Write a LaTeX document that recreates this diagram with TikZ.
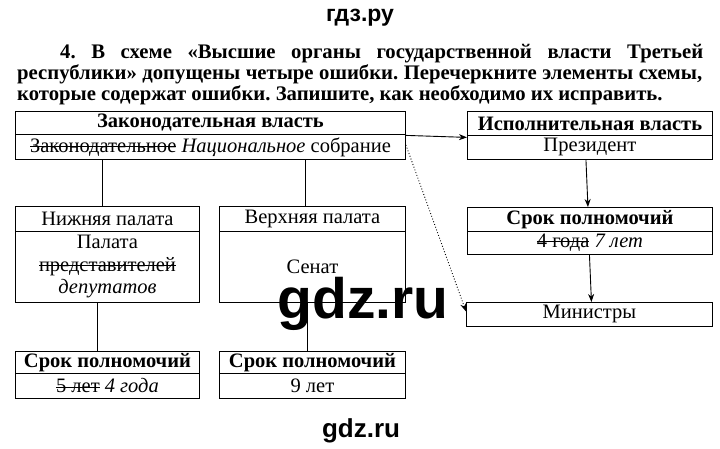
\documentclass[tikz,border=0pt]{standalone}
\usepackage{fontspec}
\setmainfont{Liberation Serif}
\newfontfamily\wmfont{Liberation Sans}
\usetikzlibrary{arrows.meta}
\frenchspacing
\newsavebox\strkbox
\newcommand\strk[1]{\sbox\strkbox{#1}\rlap{\rule[0.27em]{\wd\strkbox}{0.8pt}}\usebox\strkbox}
\tikzset{
  cell/.style={draw, line width=0.9pt, inner sep=0pt, anchor=north west, align=center,
    font=\fontsize{20.5}{22}\selectfont},
  qline/.style={anchor=base west, inner sep=0pt, font=\fontsize{20.7}{21}\selectfont\bfseries},
  conn/.style={line width=0.9pt},
  arr/.style={line width=0.9pt, -{Stealth[length=8pt,width=6pt]}},
  dotarr/.style={line width=0.9pt, dotted, -{Stealth[length=8pt,width=6pt]}},
  wm/.style={inner sep=0pt, font=\wmfont\bfseries}
}
\begin{document}
\begin{tikzpicture}[x=1pt,y=-1pt]
\useasboundingbox[fill=white] (0,0) rectangle (720,449);
% watermark top
\node[wm, font=\wmfont\bfseries\fontsize{23}{24}\selectfont, anchor=base] (wmtop) at (360,22) {гдз.ру};
% question
\node[qline] (q1) at (60,59) {\makebox[643pt][s]{4. В схеме «Высшие органы государственной власти Третьей}};
\node[qline] (q2) at (17,80) {\makebox[685pt][s]{республики» допущены четыре ошибки. Перечеркните элементы схемы,}};
\node[qline] (q3) at (17,101) {которые содержат ошибки. Запишите, как необходимо их исправить.};
% legislative
\node[cell, minimum width=390pt, minimum height=23pt] (zh) at (15,111) {\textbf{Законодательная власть}};
\node[cell, minimum width=390pt, minimum height=25pt] (zb) at (15,134) {\strk{Законодательное} \textit{Национальное} собрание};
% executive
\node[cell, minimum width=245pt, minimum height=24pt] (ih) at (467,111) {\textbf{Исполнительная власть}};
\node[cell, minimum width=245pt, minimum height=24pt] (ib) at (467,135) {Президент};
% chambers
\node[cell, minimum width=184pt, minimum height=25pt] (nh) at (15,206) {Нижняя палата};
\node[cell, minimum width=184pt, minimum height=71pt] (nb) at (15,231) {Палата\\[0.5pt] \strk{представителей}\\[0.5pt] \textit{депутатов}};
\node[cell, minimum width=186pt, minimum height=25pt] (vh) at (219,206) {Верхняя палата};
\node[cell, minimum width=186pt, minimum height=71pt] (vb) at (219,231) {Сенат};
% terms
\node[cell, minimum width=184pt, minimum height=22pt] (snh) at (15,351) {\textbf{Срок полномочий}};
\node[cell, minimum width=184pt, minimum height=25pt] (snb) at (15,373) {\strk{5 лет} \textit{4 года}};
\node[cell, minimum width=186pt, minimum height=22pt] (svh) at (219,351) {\textbf{Срок полномочий}};
\node[cell, minimum width=186pt, minimum height=25pt] (svb) at (219,373) {9 лет};
\node[cell, minimum width=245pt, minimum height=24pt] (sih) at (467,207) {\textbf{Срок полномочий}};
\node[cell, minimum width=245pt, minimum height=23pt] (sib) at (467,231) {\strk{4 года} \textit{7 лет}};
\node[cell, minimum width=246pt, minimum height=24pt] (min) at (466,302) {Министры};
% connector x positions
\coordinate (c1) at (102,0);
\coordinate (c2) at (305,0);
\coordinate (c3) at (97,0);
\coordinate (c4) at (307,0);
\draw[conn] (zb.south -| c1) -- (nh.north -| c1);
\draw[conn] (zb.south -| c2) -- (vh.north -| c2);
\draw[conn] (nb.south -| c3) -- (snh.north -| c3);
\draw[conn] (vb.south -| c4) -- (svh.north -| c4);
\draw[arr] ([yshift=-0.5pt]zh.south east) -- ([yshift=-1.5pt]ih.south west);
\draw[dotarr] ([yshift=2pt]zb.east) -- ([yshift=3pt]min.west);
\draw[arr] ([xshift=-4pt]ib.south) -- ([xshift=-2pt]sih.north);
\draw[arr] ([xshift=-0.5pt]sib.south) -- ([xshift=2pt]min.north);
% watermarks
\node[wm, font=\wmfont\bfseries\fontsize{57}{58}\selectfont, anchor=base] (wmmid) at (363,318) {gdz.ru};
\node[wm, font=\wmfont\bfseries\fontsize{26}{27}\selectfont, anchor=base] (wmbot) at (361,437) {gdz.ru};
\end{tikzpicture}
\end{document}
